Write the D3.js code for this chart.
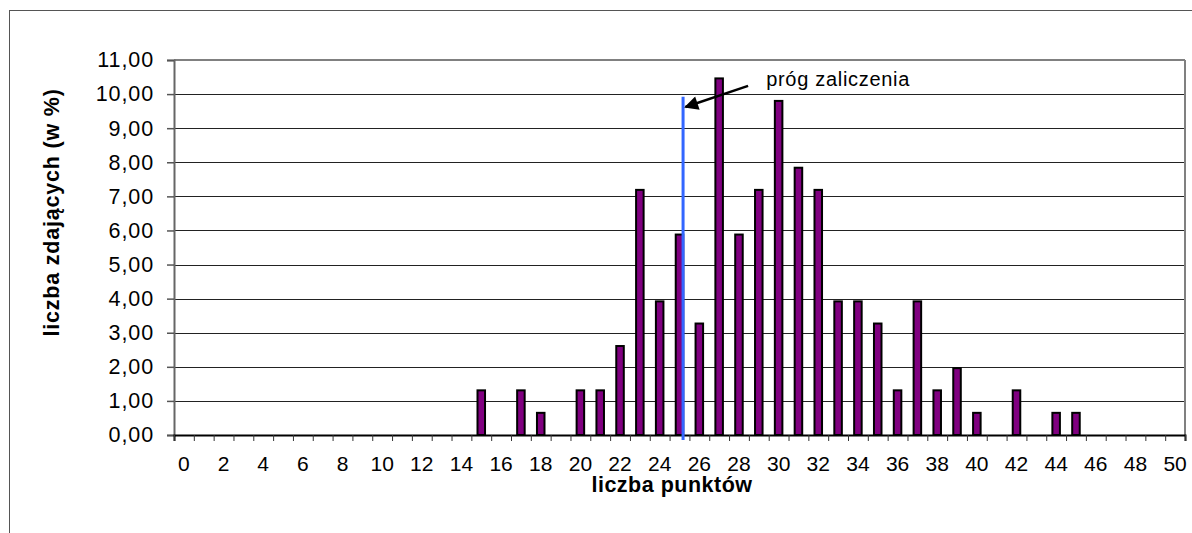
<!DOCTYPE html>
<html>
<head>
<meta charset="utf-8">
<script src="https://cdn.jsdelivr.net/npm/d3@7"></script>
<style>
  html, body { margin: 0; padding: 0; background: #fff; }
  svg { display: block; font-family: "Liberation Sans", Arial, sans-serif; }
</style>
</head>
<body>
<svg id="chart" width="1192" height="533"></svg>
<script>
// ---- data ----
const categories = d3.range(0, 51);               // liczba punktów 0..50
const values = [
  0, 0, 0, 0, 0, 0, 0, 0, 0, 0,                    // 0-9
  0, 0, 0, 0, 0, 1.31, 0, 1.31, 0.65, 0,           // 10-19
  1.31, 1.31, 2.61, 7.19, 3.92, 5.88, 3.27, 10.46, 5.88, 7.19, // 20-29
  9.80, 7.84, 7.19, 3.92, 3.92, 3.27, 1.31, 3.92, 1.31, 1.96,  // 30-39
  0.65, 0, 1.31, 0, 0.65, 0.65, 0, 0, 0, 0,        // 40-49
  0                                                // 50
];
const yTicks = [0, 1, 2, 3, 4, 5, 6, 7, 8, 9, 10, 11];
const xLabelCats = d3.range(0, 51, 2);
const yTitle = "liczba zdających (w %)";
const xTitle = "liczba punktów";
const thresholdLabel = "próg zaliczenia";
const thresholdLine = [25.18, -0.15, 9.92];        // x (points), y from, y to
const arrowFrom = [28.46, 10.24];
const arrowTo = [25.3, 9.62];
const labelAt = [29.37, 10.24];

// ---- layout ----
const L = 174, R = 1185, T = 60, B = 435;
const FONT = "'Liberation Sans', Arial, sans-serif";
const svg = d3.select("#chart");

// outer chart border
svg.append("rect").attr("x", 9.5).attr("y", 10.5).attr("width", 1300).attr("height", 700)
  .attr("fill", "none").attr("stroke", "#555").attr("stroke-width", 1);

const x = d3.scaleBand().domain(categories).range([L, R]).padding(0);
const xEdge = d3.scaleLinear().domain([0, categories.length]).range([L, R]);
const xLin = d3.scaleLinear().domain([-0.5, categories.length - 0.5]).range([L, R]);
const y = d3.scaleLinear().domain([0, 11]).range([B, T]);

// gridlines
svg.append("g").selectAll("line").data(yTicks.filter(d => d > 0 && d < 11)).join("line")
  .attr("x1", L).attr("x2", R)
  .attr("y1", d => Math.round(y(d)) + 0.5).attr("y2", d => Math.round(y(d)) + 0.5)
  .attr("stroke", "#222").attr("stroke-width", 1.2);

// plot area border top/right
svg.append("line").attr("x1", L).attr("x2", R).attr("y1", T).attr("y2", T)
  .attr("stroke", "#808080").attr("stroke-width", 2);
svg.append("line").attr("x1", R).attr("x2", R).attr("y1", T).attr("y2", B)
  .attr("stroke", "#808080").attr("stroke-width", 2);

// bars
const bw = x.bandwidth() * 0.38;
svg.append("g").selectAll("rect").data(categories.map((c, i) => ({c, v: values[i]})).filter(d => d.v > 0))
  .join("rect")
  .attr("x", d => x(d.c) + x.bandwidth() / 2 - bw / 2)
  .attr("y", d => y(d.v))
  .attr("width", bw)
  .attr("height", d => y(0) - y(d.v))
  .attr("fill", "#800080")
  .attr("stroke", "#000")
  .attr("stroke-width", 2);

// y axis
const yAxis = svg.append("g").attr("transform", `translate(${L},0)`)
  .call(d3.axisLeft(y).tickValues(yTicks).tickSize(7).tickPadding(13)
    .tickFormat(d => d.toFixed(2).replace(".", ",")));
yAxis.select(".domain").attr("stroke", "#666").attr("stroke-width", 2);
yAxis.selectAll(".tick line").attr("stroke", "#555").attr("stroke-width", 1.5);
yAxis.selectAll("text").attr("font-size", 21.5).attr("fill", "#000")
  .attr("letter-spacing", 0.9).attr("font-family", FONT);

// x axis ticks (boundaries)
const xAxisT = svg.append("g").attr("transform", `translate(0,${B})`)
  .call(d3.axisBottom(xEdge).tickValues(d3.range(0, categories.length + 1)).tickSize(6).tickFormat(""));
xAxisT.select(".domain").attr("stroke", "#000").attr("stroke-width", 2);
xAxisT.selectAll(".tick line").attr("stroke", "#333");

// x axis labels
const xAxisL = svg.append("g").attr("transform", `translate(0,${B})`)
  .call(d3.axisBottom(x).tickValues(xLabelCats).tickSize(0).tickPadding(21));
xAxisL.select(".domain").remove();
xAxisL.selectAll("text").attr("font-size", 21).attr("fill", "#000")
  .attr("font-family", FONT);

// axis titles
svg.append("text").attr("x", 672).attr("y", 492).attr("text-anchor", "middle")
  .attr("font-size", 21.5).attr("font-weight", "bold").attr("letter-spacing", 0.5).text(xTitle);
svg.append("text").attr("transform", `translate(59,${(T + B) / 2 - 35}) rotate(-90)`)
  .attr("text-anchor", "middle").attr("font-size", 21.5).attr("font-weight", "bold")
  .attr("letter-spacing", 0.8).text(yTitle);

// threshold line
svg.append("line")
  .attr("x1", xLin(thresholdLine[0])).attr("x2", xLin(thresholdLine[0]))
  .attr("y1", y(thresholdLine[1])).attr("y2", y(thresholdLine[2]))
  .attr("stroke", "#3366ff").attr("stroke-width", 3);

// arrow
svg.append("defs").append("marker").attr("id", "ah")
  .attr("viewBox", "0 0 10 10").attr("refX", 9).attr("refY", 5)
  .attr("markerWidth", 18).attr("markerHeight", 14).attr("markerUnits", "userSpaceOnUse")
  .attr("orient", "auto")
  .append("path").attr("d", "M0,0 L10,5 L0,10 z").attr("fill", "#000");
svg.append("line")
  .attr("x1", xLin(arrowFrom[0])).attr("y1", y(arrowFrom[1]))
  .attr("x2", xLin(arrowTo[0])).attr("y2", y(arrowTo[1]))
  .attr("stroke", "#000").attr("stroke-width", 2.5).attr("marker-end", "url(#ah)");

svg.append("text").attr("x", xLin(labelAt[0])).attr("y", y(labelAt[1]))
  .attr("font-size", 20).attr("letter-spacing", 0.7).attr("fill", "#000").text(thresholdLabel);
</script>
</body>
</html>
